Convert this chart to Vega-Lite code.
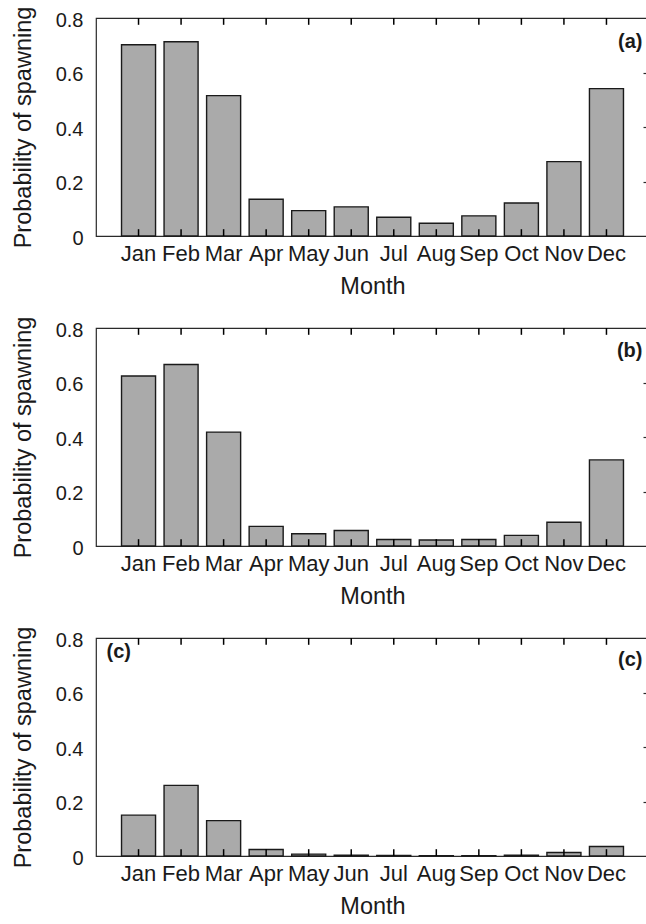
{
  "$schema": "https://vega.github.io/schema/vega-lite/v6.json",
  "padding": {"left": 10, "top": 5, "right": 0, "bottom": 0},
  "background": "white",
  "spacing": 92,
  "bounds": "flush",
  "config": {
    "font": "Liberation Sans",
    "view": {"stroke": "#2a2a2a", "strokeWidth": 1.2},
    "axis": {"domain": false, "grid": false, "zindex": 1, "labelFont": "Liberation Sans", "titleFont": "Liberation Sans", "labelColor": "#1a1a1a", "titleColor": "#1a1a1a", "tickColor": "#2a2a2a", "tickWidth": 1.2, "titleFontWeight": "normal"}
  },
  "vconcat": [
    {
      "width": 553, "height": 218,
      "data": {"values": [
        {"month": "Jan", "p": 0.702}, {"month": "Feb", "p": 0.713}, {"month": "Mar", "p": 0.515},
        {"month": "Apr", "p": 0.135}, {"month": "May", "p": 0.093}, {"month": "Jun", "p": 0.107},
        {"month": "Jul", "p": 0.069}, {"month": "Aug", "p": 0.047}, {"month": "Sep", "p": 0.074},
        {"month": "Oct", "p": 0.121}, {"month": "Nov", "p": 0.273}, {"month": "Dec", "p": 0.541}
      ]},
      "resolve": {"axis": {"x": "independent", "y": "independent"}},
      "layer": [
        {
          "mark": {"type": "bar", "fill": "#aaaaaa", "stroke": "#1a1a1a", "strokeWidth": 1.4},
          "encoding": {
            "x": {"field": "month", "type": "nominal", "sort": null,
              "scale": {"domain": ["Jan","Feb","Mar","Apr","May","Jun","Jul","Aug","Sep","Oct","Nov","Dec"], "paddingInner": 0.2, "paddingOuter": 0.6},
              "axis": {"orient": "bottom", "title": "Month", "labelAngle": 0, "labelFontSize": 22, "titleFontSize": 23.5, "ticks": false, "labelPadding": 7, "titlePadding": 10}},
            "y": {"field": "p", "type": "quantitative", "scale": {"domain": [0, 0.8]},
              "axis": {"orient": "left", "title": "Probability of spawning", "values": [0, 0.2, 0.4, 0.6, 0.8], "format": ".1~f", "ticks": false, "labelPadding": 13, "labelFontSize": 20, "labelOffset": 2, "titleFontSize": 23.5, "titlePadding": 20}}
          }
        },
        {
          "mark": {"type": "rule", "stroke": "#000000", "strokeWidth": 1.5},
          "encoding": {
            "x": {"field": "month", "type": "nominal", "sort": null, "axis": null},
            "y": {"datum": 0, "type": "quantitative", "axis": {"orient": "right", "title": null, "labels": false, "values": [0.2, 0.4, 0.6], "tickSize": -6}},
            "y2": {"datum": 0.025}
          }
        },
        {
          "mark": {"type": "rule", "stroke": "#000000", "strokeWidth": 1.5},
          "encoding": {
            "x": {"field": "month", "type": "nominal", "sort": null, "axis": null},
            "y": {"datum": 0.8, "type": "quantitative", "axis": null},
            "y2": {"datum": 0.775}
          }
        },
        {
          "data": {"values": [{"label": "(a)"}]},
          "mark": {"type": "text", "align": "right", "baseline": "middle", "dx": 36, "fontWeight": "bold", "fontSize": 20, "color": "#1a1a1a"},
          "encoding": {
            "x": {"datum": "Dec", "type": "nominal", "axis": null},
            "y": {"datum": 0.711, "type": "quantitative", "axis": null},
            "text": {"field": "label"}
          }
        }
      ]
    },
    {
      "width": 553, "height": 218,
      "data": {"values": [
        {"month": "Jan", "p": 0.624}, {"month": "Feb", "p": 0.666}, {"month": "Mar", "p": 0.418},
        {"month": "Apr", "p": 0.072}, {"month": "May", "p": 0.045}, {"month": "Jun", "p": 0.057},
        {"month": "Jul", "p": 0.024}, {"month": "Aug", "p": 0.022}, {"month": "Sep", "p": 0.024},
        {"month": "Oct", "p": 0.039}, {"month": "Nov", "p": 0.087}, {"month": "Dec", "p": 0.316}
      ]},
      "resolve": {"axis": {"x": "independent", "y": "independent"}},
      "layer": [
        {
          "mark": {"type": "bar", "fill": "#aaaaaa", "stroke": "#1a1a1a", "strokeWidth": 1.4},
          "encoding": {
            "x": {"field": "month", "type": "nominal", "sort": null,
              "scale": {"domain": ["Jan","Feb","Mar","Apr","May","Jun","Jul","Aug","Sep","Oct","Nov","Dec"], "paddingInner": 0.2, "paddingOuter": 0.6},
              "axis": {"orient": "bottom", "title": "Month", "labelAngle": 0, "labelFontSize": 22, "titleFontSize": 23.5, "ticks": false, "labelPadding": 7, "titlePadding": 10}},
            "y": {"field": "p", "type": "quantitative", "scale": {"domain": [0, 0.8]},
              "axis": {"orient": "left", "title": "Probability of spawning", "values": [0, 0.2, 0.4, 0.6, 0.8], "format": ".1~f", "ticks": false, "labelPadding": 13, "labelFontSize": 20, "labelOffset": 2, "titleFontSize": 23.5, "titlePadding": 20}}
          }
        },
        {
          "mark": {"type": "rule", "stroke": "#000000", "strokeWidth": 1.5},
          "encoding": {
            "x": {"field": "month", "type": "nominal", "sort": null, "axis": null},
            "y": {"datum": 0, "type": "quantitative", "axis": {"orient": "right", "title": null, "labels": false, "values": [0.2, 0.4, 0.6], "tickSize": -6}},
            "y2": {"datum": 0.025}
          }
        },
        {
          "mark": {"type": "rule", "stroke": "#000000", "strokeWidth": 1.5},
          "encoding": {
            "x": {"field": "month", "type": "nominal", "sort": null, "axis": null},
            "y": {"datum": 0.8, "type": "quantitative", "axis": null},
            "y2": {"datum": 0.775}
          }
        },
        {
          "data": {"values": [{"label": "(b)"}]},
          "mark": {"type": "text", "align": "right", "baseline": "middle", "dx": 36, "fontWeight": "bold", "fontSize": 20, "color": "#1a1a1a"},
          "encoding": {
            "x": {"datum": "Dec", "type": "nominal", "axis": null},
            "y": {"datum": 0.715, "type": "quantitative", "axis": null},
            "text": {"field": "label"}
          }
        }
      ]
    },
    {
      "width": 553, "height": 218,
      "data": {"values": [
        {"month": "Jan", "p": 0.150}, {"month": "Feb", "p": 0.259}, {"month": "Mar", "p": 0.130},
        {"month": "Apr", "p": 0.024}, {"month": "May", "p": 0.007}, {"month": "Jun", "p": 0.003},
        {"month": "Jul", "p": 0.002}, {"month": "Aug", "p": 0.001}, {"month": "Sep", "p": 0.001},
        {"month": "Oct", "p": 0.003}, {"month": "Nov", "p": 0.013}, {"month": "Dec", "p": 0.035}
      ]},
      "resolve": {"axis": {"x": "independent", "y": "independent"}},
      "layer": [
        {
          "mark": {"type": "bar", "fill": "#aaaaaa", "stroke": "#1a1a1a", "strokeWidth": 1.4},
          "encoding": {
            "x": {"field": "month", "type": "nominal", "sort": null,
              "scale": {"domain": ["Jan","Feb","Mar","Apr","May","Jun","Jul","Aug","Sep","Oct","Nov","Dec"], "paddingInner": 0.2, "paddingOuter": 0.6},
              "axis": {"orient": "bottom", "title": "Month", "labelAngle": 0, "labelFontSize": 22, "titleFontSize": 23.5, "ticks": false, "labelPadding": 7, "titlePadding": 10}},
            "y": {"field": "p", "type": "quantitative", "scale": {"domain": [0, 0.8]},
              "axis": {"orient": "left", "title": "Probability of spawning", "values": [0, 0.2, 0.4, 0.6, 0.8], "format": ".1~f", "ticks": false, "labelPadding": 13, "labelFontSize": 20, "labelOffset": 2, "titleFontSize": 23.5, "titlePadding": 20}}
          }
        },
        {
          "mark": {"type": "rule", "stroke": "#000000", "strokeWidth": 1.5},
          "encoding": {
            "x": {"field": "month", "type": "nominal", "sort": null, "axis": null},
            "y": {"datum": 0, "type": "quantitative", "axis": {"orient": "right", "title": null, "labels": false, "values": [0.2, 0.4, 0.6], "tickSize": -6}},
            "y2": {"datum": 0.025}
          }
        },
        {
          "mark": {"type": "rule", "stroke": "#000000", "strokeWidth": 1.5},
          "encoding": {
            "x": {"field": "month", "type": "nominal", "sort": null, "axis": null},
            "y": {"datum": 0.8, "type": "quantitative", "axis": null},
            "y2": {"datum": 0.775}
          }
        },
        {
          "data": {"values": [{"label": "(c)"}]},
          "mark": {"type": "text", "align": "right", "baseline": "middle", "dx": 36, "fontWeight": "bold", "fontSize": 20, "color": "#1a1a1a"},
          "encoding": {
            "x": {"datum": "Dec", "type": "nominal", "axis": null},
            "y": {"datum": 0.72, "type": "quantitative", "axis": null},
            "text": {"field": "label"}
          }
        },
        {
          "data": {"values": [{"label": "(c)"}]},
          "mark": {"type": "text", "align": "left", "baseline": "middle", "dx": -32, "fontWeight": "bold", "fontSize": 20, "color": "#1a1a1a"},
          "encoding": {
            "x": {"datum": "Jan", "type": "nominal", "axis": null},
            "y": {"datum": 0.75, "type": "quantitative", "axis": null},
            "text": {"field": "label"}
          }
        }
      ]
    }
  ]
}
